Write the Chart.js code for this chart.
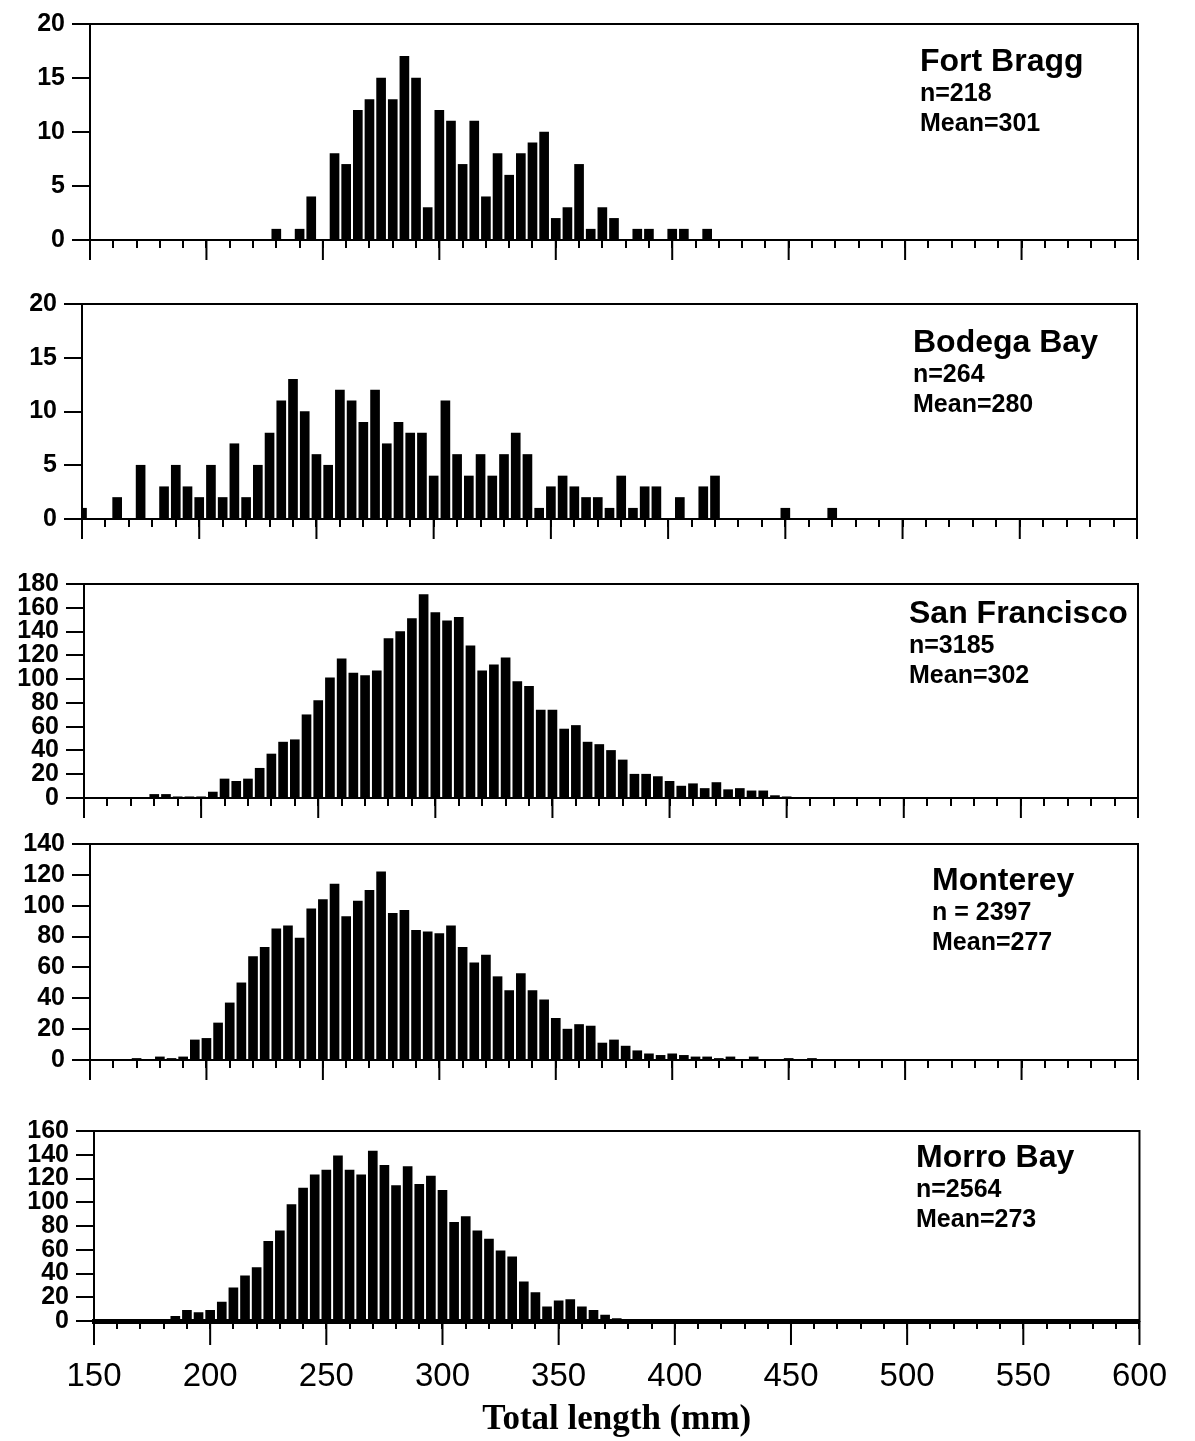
<!DOCTYPE html>
<html>
<head>
<meta charset="utf-8">
<script src="https://cdn.jsdelivr.net/npm/chart.js@4.4.1/dist/chart.umd.min.js"></script>
<style>
  body { margin: 0; background: #fff; }
  #wrap { position: relative; width: 1195px; height: 1441px; }
  #wrap canvas { position: absolute; left: 0; }
</style>
</head>
<body>
<div id="wrap"></div>
<script>
// 5 mm length classes, 150 .. 600
const lengthBins = [
  150, 155, 160, 165, 170, 175, 180, 185, 190, 195,
  200, 205, 210, 215, 220, 225, 230, 235, 240, 245,
  250, 255, 260, 265, 270, 275, 280, 285, 290, 295,
  300, 305, 310, 315, 320, 325, 330, 335, 340, 345,
  350, 355, 360, 365, 370, 375, 380, 385, 390, 395,
  400, 405, 410, 415, 420, 425, 430, 435, 440, 445,
  450, 455, 460, 465, 470, 475, 480, 485, 490, 495,
  500, 505, 510, 515, 520, 525, 530, 535, 540, 545,
  550, 555, 560, 565, 570, 575, 580, 585, 590, 595,
  600
];

const fortBragg = [
  0, 0, 0, 0, 0, 0, 0, 0, 0, 0,
  0, 0, 0, 0, 0, 0, 1, 0, 1, 4,
  0, 8, 7, 12, 13, 15, 13, 17, 15, 3,
  12, 11, 7, 11, 4, 8, 6, 8, 9, 10,
  2, 3, 7, 1, 3, 2, 0, 1, 1, 0,
  1, 1, 0, 1, 0, 0, 0, 0, 0, 0,
  0, 0, 0, 0, 0, 0, 0, 0, 0, 0,
  0, 0, 0, 0, 0, 0, 0, 0, 0, 0,
  0, 0, 0, 0, 0, 0, 0, 0, 0, 0,
  0
];

const bodegaBay = [
  1, 0, 0, 2, 0, 5, 0, 3, 5, 3,
  2, 5, 2, 7, 2, 5, 8, 11, 13, 10,
  6, 5, 12, 11, 9, 12, 7, 9, 8, 8,
  4, 11, 6, 4, 6, 4, 6, 8, 6, 1,
  3, 4, 3, 2, 2, 1, 4, 1, 3, 3,
  0, 2, 0, 3, 4, 0, 0, 0, 0, 0,
  1, 0, 0, 0, 1, 0, 0, 0, 0, 0,
  0, 0, 0, 0, 0, 0, 0, 0, 0, 0,
  0, 0, 0, 0, 0, 0, 0, 0, 0, 0,
  0
];

const sanFrancisco = [
  0, 0, 0, 0, 0, 0, 3, 3, 1, 1,
  1, 5, 16, 14, 16, 25, 37, 47, 49, 70,
  82, 101, 117, 105, 103, 107, 134, 140, 151, 171,
  156, 149, 152, 128, 107, 112, 118, 98, 94, 74,
  74, 58, 61, 47, 45, 40, 32, 20, 20, 18,
  14, 10, 12, 8, 13, 7, 8, 6, 6, 2,
  1, 0, 0, 0, 0, 0, 0, 0, 0, 0,
  0, 0, 0, 0, 0, 0, 0, 0, 0, 0,
  0, 0, 0, 0, 0, 0, 0, 0, 0, 0,
  0
];

const monterey = [
  0, 0, 0, 0, 1, 0, 2, 1, 2, 13,
  14, 24, 37, 50, 67, 73, 85, 87, 79, 98,
  104, 114, 93, 103, 110, 122, 95, 97, 84, 83,
  82, 87, 73, 63, 68, 54, 45, 56, 45, 39,
  27, 20, 23, 22, 11, 13, 9, 6, 4, 3,
  4, 3, 2, 2, 1, 2, 0, 2, 0, 0,
  1, 0, 1, 0, 0, 0, 0, 0, 0, 0,
  0, 0, 0, 0, 0, 0, 0, 0, 0, 0,
  0, 0, 0, 0, 0, 0, 0, 0, 0, 0,
  0
];

const morroBay = [
  0, 0, 0, 0, 0, 0, 0, 4, 9, 7,
  9, 16, 28, 38, 45, 67, 76, 98, 112, 123,
  127, 139, 127, 123, 143, 131, 114, 130, 115, 122,
  110, 83, 88, 76, 69, 59, 54, 33, 24, 12,
  17, 18, 12, 9, 5, 2, 1, 0, 0, 0,
  0, 0, 0, 0, 0, 0, 0, 0, 0, 0,
  0, 0, 0, 0, 0, 0, 0, 0, 0, 0,
  0, 0, 0, 0, 0, 0, 0, 0, 0, 0,
  0, 0, 0, 0, 0, 0, 0, 0, 0, 0,
  0
];

const siteNames = ['Fort Bragg', 'Bodega Bay', 'San Francisco', 'Monterey', 'Morro Bay'];
const sampleSizes = ['n=218', 'n=264', 'n=3185', 'n = 2397', 'n=2564'];
const meanLengths = ['Mean=301', 'Mean=280', 'Mean=302', 'Mean=277', 'Mean=273'];
const siteCounts = [fortBragg, bodegaBay, sanFrancisco, monterey, morroBay];
const yMaxes = [20, 20, 180, 140, 160];
const ySteps = [5, 5, 20, 20, 20];
const xTitle = 'Total length (mm)';

// page layout of each panel (plot area in page pixels)
const layout = [
  { left: 90, right: 1138, top: 18,   bottom: 240,  textX: 920, lines: [47, 77, 107], axisH: 26,  base: 2, major: 20 },
  { left: 82, right: 1137, top: 298,  bottom: 519,  textX: 913, lines: [48, 78, 108], axisH: 26,  base: 2, major: 20 },
  { left: 84, right: 1138, top: 578,  bottom: 798,  textX: 909, lines: [39, 69, 99],  axisH: 26,  base: 2, major: 20 },
  { left: 90, right: 1138, top: 838,  bottom: 1060, textX: 932, lines: [46, 76, 106], axisH: 26,  base: 2, major: 20 },
  { left: 94, right: 1148, top: 1125, bottom: 1321, textX: 916, lines: [36, 66, 96],  axisH: 120, base: 5, major: 24, labels: true }
];

const FONT = '"Liberation Sans", Arial, sans-serif';
const PAD_TOP = 16;
const wrap = document.getElementById('wrap');

function makeDecor(i) {
  const L = layout[i];
  return {
    id: 'panelDecor' + i,
    afterDraw(chart) {
      const { ctx, chartArea: a } = chart;
      const xs = chart.scales.x;
      ctx.save();
      ctx.strokeStyle = '#000';
      ctx.lineWidth = 2;
      ctx.strokeRect(a.left, a.top, a.right - a.left, a.bottom - a.top);
      ctx.beginPath();
      xs.ticks.forEach(t => {
        if (t.value % 50 === 0) {
          const px = xs.getPixelForValue(t.value);
          ctx.moveTo(px, a.bottom);
          ctx.lineTo(px, a.bottom + L.major);
        }
      });
      ctx.stroke();
      ctx.fillStyle = '#000';
      ctx.textAlign = 'left';
      ctx.textBaseline = 'alphabetic';
      ctx.font = 'bold 32px ' + FONT;
      ctx.fillText(siteNames[i], L.textX, a.top + L.lines[0]);
      ctx.font = 'bold 25px ' + FONT;
      ctx.fillText(sampleSizes[i], L.textX, a.top + L.lines[1]);
      ctx.fillText(meanLengths[i], L.textX, a.top + L.lines[2]);
      ctx.restore();
    }
  };
}

siteCounts.forEach((counts, i) => {
  const L = layout[i];
  const cv = document.createElement('canvas');
  cv.width = 1195;
  cv.height = (L.bottom - L.top) + PAD_TOP + L.axisH;
  cv.style.top = (L.top - PAD_TOP) + 'px';
  wrap.appendChild(cv);

  new Chart(cv.getContext('2d'), {
    type: 'bar',
    data: {
      datasets: [{
        data: lengthBins.map((b, k) => ({ x: b, y: counts[k] })),
        backgroundColor: '#000',
        barThickness: 9,
        clip: 0
      }]
    },
    options: {
      responsive: false,
      animation: false,
      devicePixelRatio: 1,
      layout: { padding: { top: PAD_TOP, right: 1195 - L.right, left: 0, bottom: 0 } },
      plugins: { legend: { display: false }, tooltip: { enabled: false } },
      scales: {
        x: {
          type: 'linear',
          min: 150,
          max: 600,
          offset: false,
          afterFit: s => { s.height = L.axisH; },
          grid: { offset: false, drawOnChartArea: false, drawTicks: true, tickLength: 8, color: '#000', lineWidth: 2 },
          border: { display: true, color: '#000', width: L.base },
          ticks: {
            stepSize: 10,
            autoSkip: false,
            maxRotation: 0,
            padding: 28,
            color: '#000',
            font: { family: FONT, size: 33 },
            callback: v => (L.labels && v % 50 === 0) ? String(v) : ''
          },
          title: {
            display: !!L.labels,
            text: xTitle,
            color: '#000',
            font: { family: '"Liberation Serif", "Times New Roman", serif', size: 35, weight: 'bold' },
            padding: { top: 0, bottom: 0 }
          }
        },
        y: {
          min: 0,
          max: yMaxes[i],
          afterFit: s => { s.width = L.left; },
          grid: { drawOnChartArea: false, drawTicks: true, tickLength: 18, color: '#000', lineWidth: 2 },
          border: { display: true, color: '#000', width: 2 },
          ticks: {
            stepSize: ySteps[i],
            autoSkip: false,
            padding: 7,
            color: '#000',
            font: { family: FONT, size: 25, weight: 'bold' }
          }
        }
      }
    },
    plugins: [makeDecor(i)]
  });
});
</script>
</body>
</html>
